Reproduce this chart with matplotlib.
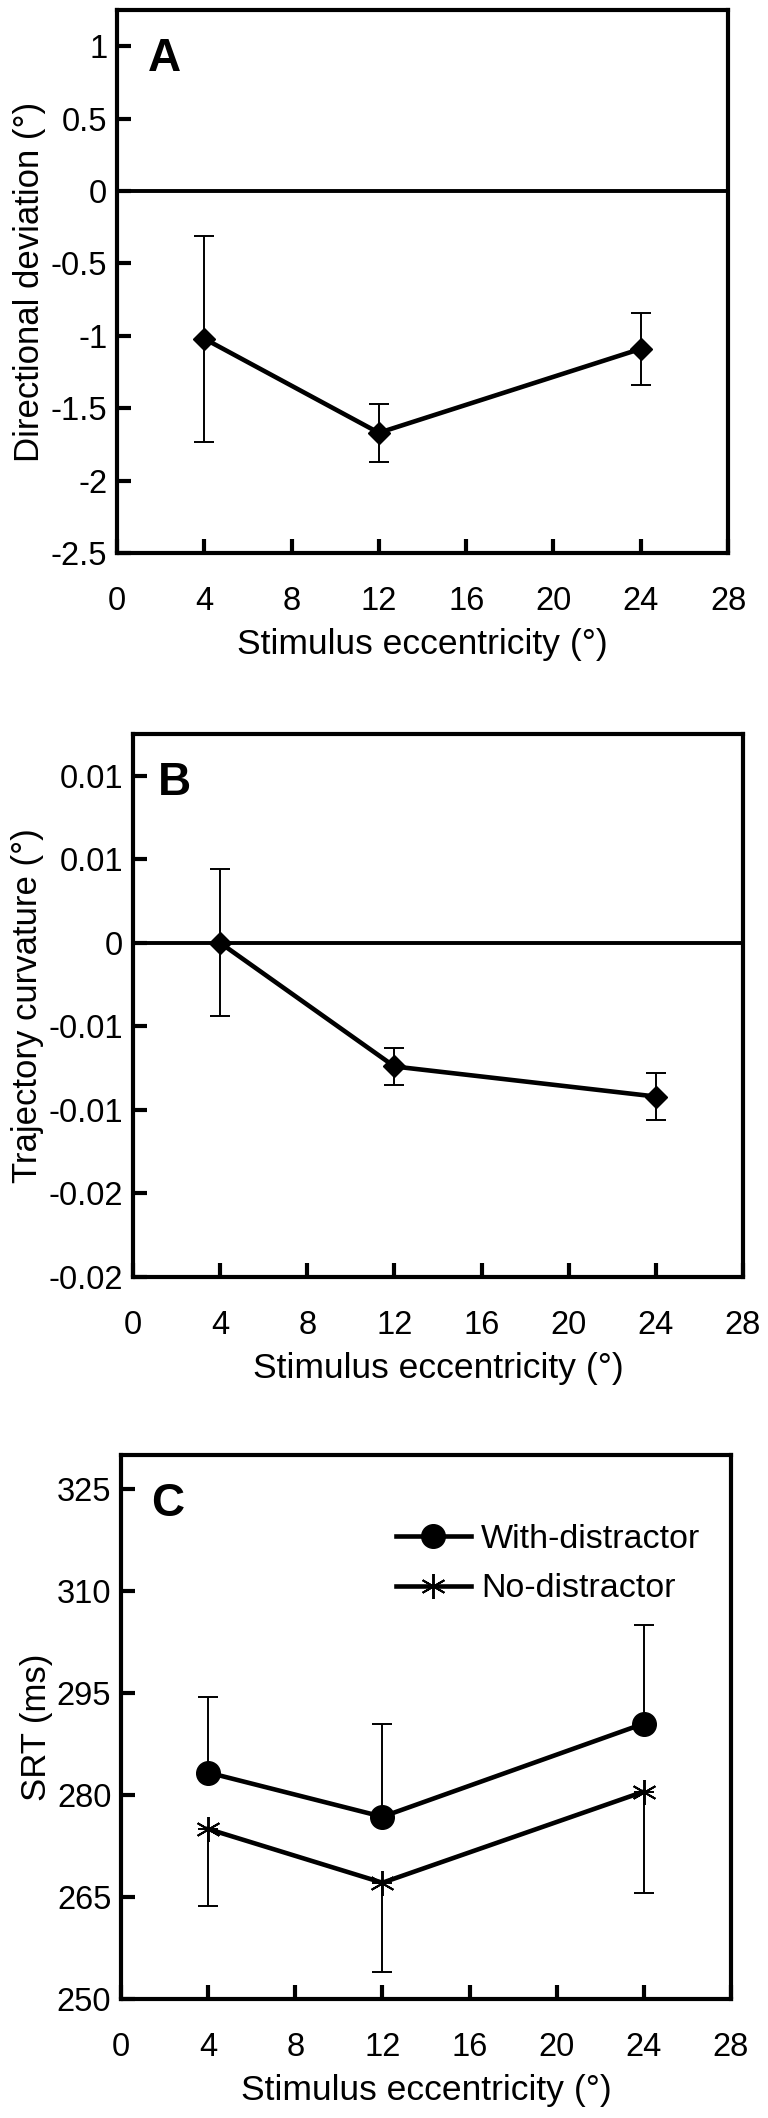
import matplotlib
matplotlib.use("Agg")
import matplotlib.pyplot as plt

plt.rcParams['font.family'] = ['Liberation Sans', 'DejaVu Sans']

# stimulus eccentricity (deg)
ecc = [4, 12, 24]

# panel A - directional deviation
dev_mean = [-1.02, -1.67, -1.09]
dev_err = [0.71, 0.20, 0.25]

# panel B - trajectory curvature
curv_mean = [0.0, -0.0074, -0.0092]
curv_err = [0.0044, 0.0011, 0.0014]
curv_ticks = [-0.02, -0.015, -0.01, -0.005, 0, 0.005, 0.01]
curv_labels = ["-0.02", "-0.02", "-0.01", "-0.01", "0", "0.01", "0.01"]

# panel C - saccadic reaction time
srt_with = [283.3, 276.8, 290.5]
srt_with_err = [11.1, 13.7, 14.5]
srt_without = [275.0, 267.1, 280.5]
srt_without_err = [11.3, 13.1, 14.9]

xticks = [0, 4, 8, 12, 16, 20, 24, 28]
FS = 23.5
LW_AX = 3.0
LW_DATA = 3.3
W, H = 768.0, 2118.0


def box(l, r, t, b):
    return [l / W, 1 - b / H, (r - l) / W, (b - t) / H]


def style_axes(ax):
    for s in ax.spines.values():
        s.set_linewidth(LW_AX)
    ax.set_xlim(0, 28)
    ax.set_xticks(xticks)
    ax.tick_params(axis='both', direction='in', length=10, width=LW_AX, labelsize=FS)
    ax.tick_params(axis='x', pad=24)
    ax.tick_params(axis='y', pad=7)
    ax.set_xlabel("Stimulus eccentricity (°)", fontsize=25.5, labelpad=8)


fig = plt.figure(figsize=(7.68, 21.18), dpi=100)

# A
ax1 = fig.add_axes(box(117, 728, 10, 553))
ax1.axhline(0, color='black', lw=2.8)
ax1.errorbar(ecc, dev_mean, yerr=dev_err, color='black', lw=LW_DATA, marker='D', ms=11,
             ecolor='black', elinewidth=1.4, capsize=7, capthick=1.4)
ax1.set_ylim(-2.5, 1.25)
ax1.set_yticks([-2.5, -2, -1.5, -1, -0.5, 0, 0.5, 1])
ax1.set_yticklabels(["-2.5", "-2", "-1.5", "-1", "-0.5", "0", "0.5", "1"])
ax1.set_ylabel("Directional deviation (°)", fontsize=25, labelpad=3)
style_axes(ax1)
ax1.text(0.05, 0.95, "A", transform=ax1.transAxes, fontsize=33, fontweight='bold',
         va='top', ha='left')

# B
ax2 = fig.add_axes(box(133, 743, 734, 1277))
ax2.axhline(0, color='black', lw=2.8)
ax2.errorbar(ecc, curv_mean, yerr=curv_err, color='black', lw=LW_DATA, marker='D', ms=11,
             ecolor='black', elinewidth=1.4, capsize=7, capthick=1.4)
ax2.set_ylim(-0.02, 0.0125)
ax2.set_yticks(curv_ticks)
ax2.set_yticklabels(curv_labels)
ax2.set_ylabel("Trajectory curvature (°)", fontsize=25, labelpad=3)
style_axes(ax2)
ax2.text(0.04, 0.95, "B", transform=ax2.transAxes, fontsize=33, fontweight='bold',
         va='top', ha='left')

# C
ax3 = fig.add_axes(box(121, 731, 1455, 1999))
ax3.errorbar(ecc, srt_with, yerr=[[0, 0, 0], srt_with_err], color='black', lw=LW_DATA,
             marker='o', ms=17, ecolor='black', elinewidth=1.4, capsize=7, capthick=1.4,
             label="With-distractor")
ax3.errorbar(ecc, srt_without, yerr=[srt_without_err, [0, 0, 0]], color='black', lw=LW_DATA,
             marker=(6, 2, 0), ms=18, mew=1.4, ecolor='black', elinewidth=1.4, capsize=7,
             capthick=1.4, label="No-distractor")
ax3.set_ylim(250, 330)
ax3.set_yticks([250, 265, 280, 295, 310, 325])
ax3.set_ylabel("SRT (ms)", fontsize=25, labelpad=3)
style_axes(ax3)
ax3.text(0.05, 0.95, "C", transform=ax3.transAxes, fontsize=33, fontweight='bold',
         va='top', ha='left')
handles, labels = ax3.get_legend_handles_labels()
handles = [h[0] for h in handles]
ax3.legend(handles, labels, loc='upper right', frameon=False, fontsize=24.5,
           handlelength=2.2, handletextpad=0.3, labelspacing=0.55,
           bbox_to_anchor=(1.0, 0.93))

fig.savefig("out.png", dpi=100)
